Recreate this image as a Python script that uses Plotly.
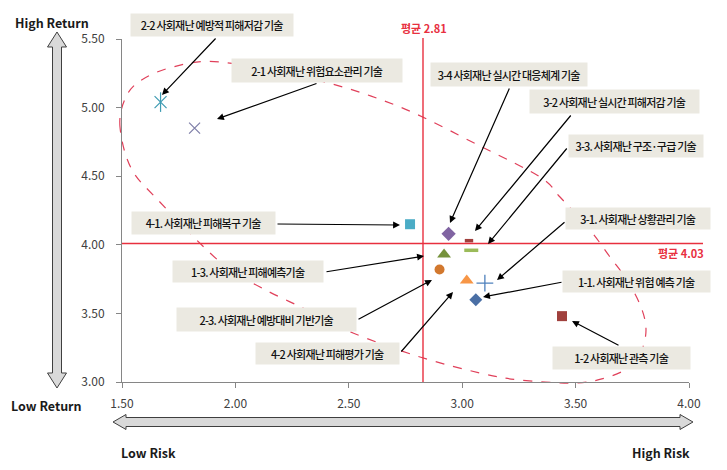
import plotly.graph_objects as go

# ---------------- data ----------------
series_names = [
    "1-1. 사회재난 위험 예측 기술",
    "1-2 사회재난 관측 기술",
    "1-3. 사회재난 피해예측기술",
    "2-1 사회재난 위험요소관리 기술",
    "2-2 사회재난 예방적 피해저감 기술",
    "2-3. 사회재난 예방대비 기반기술",
    "3-1. 사회재난 상황관리 기술",
    "3-2 사회재난 실시간 피해저감 기술",
    "3-3. 사회재난 구조·구급 기술",
    "3-4 사회재난 실시간 대응체계 기술",
    "4-1. 사회재난 피해복구 기술",
    "4-2 사회재난 피해평가 기술",
]
risk_values = [3.06, 3.44, 2.92, 1.82, 1.67, 2.90, 3.10, 3.03, 3.04, 2.94, 2.77, 3.02]
return_values = [3.60, 3.48, 3.93, 4.85, 5.04, 3.82, 3.72, 4.03, 3.96, 4.08, 4.15, 3.74]

mean_risk_label = "평균 2.81"
mean_return_label = "평균 4.03"

x_ticks = [1.5, 2.0, 2.5, 3.0, 3.5, 4.0]
y_ticks = [3.0, 3.5, 4.0, 4.5, 5.0, 5.5]

# ---------------- styles ----------------
marker_symbols = ["diamond", "square", "triangle-up", "x-thin-open", "x-thin-open", "circle",
                  "cross-thin-open", "line-ew-open", "line-ew-open", "diamond", "square", "triangle-up"]
marker_colors = ["#4A6FA5", "#A0403D", "#76923C", "#7F7FA8", "#3E9BB2", "#D2782E",
                 "#4F81BD", "#A0403D", "#9BBB59", "#8064A2", "#4BACC6", "#F79646"]
marker_sizes = [10, 10, 12, 11, 12, 10, 12, 6, 10, 11, 10, 12]
marker_linewidths = [0, 0, 0, 1.2, 1.2, 0, 1.3, 3.5, 3.5, 0, 0, 0]

FONT = "Malgun Gothic, Noto Sans CJK KR, sans-serif"

# layout geometry (pixels of the 727x470 canvas)
PL, PR, PT, PB = 122, 689, 39, 382
PW, PH = PR - PL, PB - PT


def pp(xp, yp):
    """pixel -> paper coordinates"""
    return (xp - PL) / PW, (PB - yp) / PH


fig = go.Figure()

for i, name in enumerate(series_names):
    fig.add_trace(go.Scatter(
        x=[risk_values[i]], y=[return_values[i]], mode="markers", name=name,
        showlegend=False, cliponaxis=False,
        marker=dict(symbol=marker_symbols[i], color=marker_colors[i], size=marker_sizes[i],
                    line=dict(color=marker_colors[i], width=marker_linewidths[i]))))
    if i == 4:  # star-like marker: add vertical stroke
        fig.add_trace(go.Scatter(
            x=[risk_values[i]], y=[return_values[i]], mode="markers", showlegend=False,
            cliponaxis=False, hoverinfo="skip",
            marker=dict(symbol="line-ns-open", color=marker_colors[i], size=marker_sizes[i] + 2,
                        line=dict(color=marker_colors[i], width=1.2))))

shapes = []

# dashed ellipse (hand-drawn outline)
outline = [(120, 127), (125, 99), (140, 81), (173, 67), (220, 62), (317, 80), (400, 107),
           (480, 146), (540, 177), (560, 197), (590, 230), (610, 257), (627, 280), (641, 307),
           (646, 330), (641, 352), (628, 368), (605, 378), (575, 383), (520, 380), (480, 373),
           (420, 357), (353, 333), (307, 310), (260, 287), (220, 262), (158, 200), (131, 168)]
n = len(outline)
pts = [pp(*p) for p in outline]
d = "M {:.5f},{:.5f}".format(*pts[0])
for k in range(n):
    p0, p1, p2, p3 = pts[(k - 1) % n], pts[k], pts[(k + 1) % n], pts[(k + 2) % n]
    c1 = (p1[0] + (p2[0] - p0[0]) / 6, p1[1] + (p2[1] - p0[1]) / 6)
    c2 = (p2[0] - (p3[0] - p1[0]) / 6, p2[1] - (p3[1] - p1[1]) / 6)
    d += " C {:.5f},{:.5f} {:.5f},{:.5f} {:.5f},{:.5f}".format(*c1, *c2, *p2)
d += " Z"
shapes.append(dict(type="path", path=d, xref="paper", yref="paper", layer="below",
                   line=dict(color="#E0405A", width=1.2, dash="dash")))

# mean lines
vx, _ = pp(423, 0)
_, vy_top = pp(0, 38)
shapes.append(dict(type="line", xref="paper", yref="paper", x0=vx, x1=vx, y0=0, y1=vy_top,
                   line=dict(color="#E8303F", width=1.4)))
hx_end, hy = pp(703, 243.5)
shapes.append(dict(type="line", xref="paper", yref="paper", x0=0, x1=hx_end, y0=hy, y1=hy,
                   line=dict(color="#E8303F", width=1.4)))


def poly(points):
    ps = [pp(*p) for p in points]
    return "M " + " L ".join("{:.5f},{:.5f}".format(*q) for q in ps) + " Z"


# vertical double arrow
cx, hw, sw, hl = 57, 9.5, 4.5, 15
top, bot = 32, 388
shapes.append(dict(type="path", xref="paper", yref="paper", path=poly([
    (cx, top), (cx + hw, top + hl), (cx + sw, top + hl), (cx + sw, bot - hl), (cx + hw, bot - hl),
    (cx, bot), (cx - hw, bot - hl), (cx - sw, bot - hl), (cx - sw, top + hl), (cx - hw, top + hl)]),
    fillcolor="#D9D9D9", line=dict(color="#3F3F3F", width=1)))
# horizontal double arrow
cy, hh, sh, hlen = 422, 7.5, 4.5, 13
left, right = 113, 693
shapes.append(dict(type="path", xref="paper", yref="paper", path=poly([
    (left, cy), (left + hlen, cy - hh), (left + hlen, cy - sh), (right - hlen, cy - sh),
    (right - hlen, cy - hh), (right, cy), (right - hlen, cy + hh), (right - hlen, cy + sh),
    (left + hlen, cy + sh), (left + hlen, cy + hh)]),
    fillcolor="#D9D9D9", line=dict(color="#3F3F3F", width=1)))

annotations = []

# arrows: (tail pixel) -> (tip pixel)
arrows = [((217, 37), (162, 95)), ((318, 83), (217, 119)), ((510, 87), (450, 223)),
          ((572, 114), (475, 231)), ((568, 147), (488, 244)), ((566, 221), (497, 280)),
          ((563, 282), (483, 297)), ((620, 346), (572, 321)), ((276, 224), (400, 225)),
          ((325, 272), (424, 256)), ((357, 320), (432, 280)), ((400, 353), (453, 292))]
for (tx, ty), (hx, hy2) in arrows:
    x, y = pp(hx, hy2)
    annotations.append(dict(xref="paper", yref="paper", x=x, y=y, ax=tx - hx, ay=ty - hy2,
                            text="", showarrow=True, arrowhead=2, arrowsize=1.15,
                            arrowwidth=1.2, arrowcolor="#000000", standoff=0))

# label boxes: text, center pixel, width, height
label_boxes = [
    ("2-2 사회재난 예방적 피해저감 기술", (212, 25), 162, 22),
    ("2-1 사회재난 위험요소관리 기술", (317, 70.5), 170, 23),
    ("3-4 사회재난 실시간 대응체계 기술", (509, 74.5), 156, 23),
    ("3-2 사회재난 실시간 피해저감 기술", (614.5, 101.5), 169, 23),
    ("3-3. 사회재난 구조·구급 기술", (636, 146), 134, 22),
    ("3-1. 사회재난 상황관리 기술", (638, 218.5), 144, 21),
    ("1-1. 사회재난 위험 예측 기술", (636.5, 281), 147, 21),
    ("1-2 사회재난 관측 기술", (621.5, 358), 137, 22),
    ("4-1. 사회재난 피해복구 기술", (203.5, 223), 143, 22),
    ("1-3. 사회재난 피해예측기술", (248, 271.5), 150, 21),
    ("2-3. 사회재난 예방대비 기반기술", (266.5, 319.5), 179, 23),
    ("4-2 사회재난 피해평가 기술", (327.5, 353.5), 143, 21),
]
for text, (cxp, cyp), w, h in label_boxes:
    x, y = pp(cxp, cyp)
    annotations.append(dict(
        xref="paper", yref="paper", x=x, y=y, xanchor="center", yanchor="middle",
        text='<span style="letter-spacing:-0.8px">' + text + "</span>",
        showarrow=False, bgcolor="#EBE9E1", width=w, height=h, borderpad=0,
        font=dict(family=FONT, size=11, color="#111111", weight=500)))

# mean labels
for text, (cxp, cyp) in [(mean_risk_label, (424, 28)), (mean_return_label, (681, 253))]:
    x, y = pp(cxp, cyp)
    annotations.append(dict(xref="paper", yref="paper", x=x, y=y, xanchor="center",
                            yanchor="middle", text="<b>" + text + "</b>", showarrow=False,
                            font=dict(family=FONT, size=11, color="#E8303F")))

# axis descriptors
for text, (cxp, cyp) in [("High Return", (52, 22)), ("Low Return", (46, 405)),
                         ("Low Risk", (148, 452)), ("High Risk", (661, 453))]:
    x, y = pp(cxp, cyp)
    annotations.append(dict(xref="paper", yref="paper", x=x, y=y, xanchor="center",
                            yanchor="middle", text="<b>" + text + "</b>", showarrow=False,
                            font=dict(family=FONT, size=12.5, color="#1A1A1A")))

axis_common = dict(showgrid=False, zeroline=False, showline=True, linecolor="#868686",
                   linewidth=1, ticks="outside", ticklen=5, tickcolor="#868686",
                   tickformat=".2f", tickfont=dict(family=FONT, size=12, color="#404040"),
                   automargin=False)

fig.update_layout(
    width=727, height=470,
    margin=dict(l=PL, r=727 - PR, t=PT, b=470 - PB, pad=0),
    paper_bgcolor="white", plot_bgcolor="white",
    xaxis=dict(range=[1.5, 4.0], tickvals=x_ticks, ticklabelstandoff=6, **axis_common),
    yaxis=dict(range=[3.0, 5.5], tickvals=y_ticks, ticklabelstandoff=9, **axis_common),
    shapes=shapes, annotations=annotations, showlegend=False,
)

fig.write_html("out.html", config={"displayModeBar": False},
               post_script="document.body.style.margin='0';document.body.style.overflow='hidden';")
